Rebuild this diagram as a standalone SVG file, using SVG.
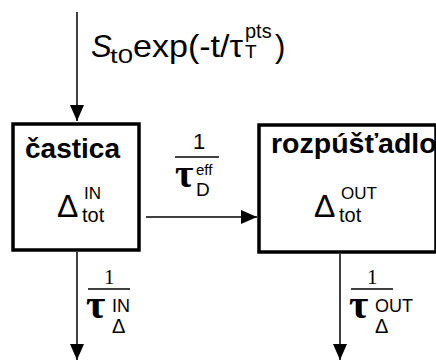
<svg xmlns="http://www.w3.org/2000/svg" width="436" height="360" viewBox="0 0 436 360">
<style>
.box{fill:#fff;stroke:#000;stroke-width:3.5}
.ln{stroke:#000;stroke-width:1.5;fill:none}
.s{font-family:"Liberation Sans",Arial,sans-serif;fill:#000}
.b{font-family:"Liberation Sans",Arial,sans-serif;font-weight:bold;fill:#000}
.r{font-family:"Liberation Serif","Times New Roman",serif;fill:#000}
.t{font-family:"Liberation Serif","Times New Roman",serif;font-weight:bold;fill:#000}
</style>
<defs>
<marker id="ah" viewBox="0 0 16 14" refX="16" refY="7" markerWidth="16" markerHeight="14" markerUnits="userSpaceOnUse" orient="auto">
<path d="M0,0 L16,7 L0,14 Z" fill="#000"/>
</marker>
</defs>
<rect width="436" height="360" fill="#fff"/>
<g id="connectors">
<line class="ln" x1="77" y1="12" x2="77" y2="121" marker-end="url(#ah)"/>
<line class="ln" x1="146" y1="217" x2="257" y2="217" marker-end="url(#ah)"/>
<line class="ln" x1="77" y1="252" x2="77" y2="360" marker-end="url(#ah)"/>
<line class="ln" x1="340" y1="254" x2="340" y2="360" marker-end="url(#ah)"/>
</g>
<g id="source-label">
<text class="s" x="91" y="57" font-size="31" font-style="italic">S</text>
<text class="s" x="110" y="63" font-size="21" textLength="23" lengthAdjust="spacingAndGlyphs">t0</text>
<text class="s" x="133" y="57" font-size="32" textLength="110" lengthAdjust="spacingAndGlyphs">exp(-t/τ</text>
<text class="s" x="245" y="38" font-size="20">pts</text>
<text class="s" x="245" y="58" font-size="19">T</text>
<text class="s" x="275" y="57" font-size="31">)</text>
</g>
<g id="castica">
<rect class="box" x="13" y="124" width="126" height="126"/>
<text class="b" x="25" y="158" font-size="28">častica</text>
<text class="s" x="57" y="217" font-size="32">Δ</text>
<text class="s" x="84" y="199" font-size="17">IN</text>
<text class="s" x="82" y="222" font-size="20">tot</text>
</g>
<g id="rozpustadlo">
<rect class="box" x="259" y="125" width="177" height="127" stroke-width="4"/>
<text class="b" x="271" y="153" font-size="28.5">rozpúšťadlo</text>
<text class="s" x="314" y="217" font-size="32">Δ</text>
<text class="s" x="341" y="199" font-size="17">OUT</text>
<text class="s" x="339" y="222" font-size="20">tot</text>
</g>
<g id="label-eff">
<text class="s" x="193" y="149" font-size="22">1</text>
<line x1="175" y1="157" x2="219" y2="157" stroke="#000" stroke-width="1.5"/>
<text class="t" x="175" y="187" font-size="40">τ</text>
<text class="s" x="196" y="175" font-size="15">eff</text>
<text class="s" x="196" y="196" font-size="19">D</text>
</g>
<g id="label-in">
<text class="r" x="104" y="284" font-size="21">1</text>
<line x1="88" y1="289" x2="130" y2="289" stroke="#000" stroke-width="1.5"/>
<text class="t" x="86" y="318" font-size="42">τ</text>
<text class="s" x="112" y="312" font-size="18">IN</text>
<text class="s" x="112" y="333" font-size="20">Δ</text>
</g>
<g id="label-out">
<text class="r" x="367" y="284" font-size="21">1</text>
<line x1="351" y1="289" x2="393" y2="289" stroke="#000" stroke-width="1.5"/>
<text class="t" x="349" y="318" font-size="42">τ</text>
<text class="s" x="375" y="312" font-size="18">OUT</text>
<text class="s" x="375" y="333" font-size="20">Δ</text>
</g>
</svg>
